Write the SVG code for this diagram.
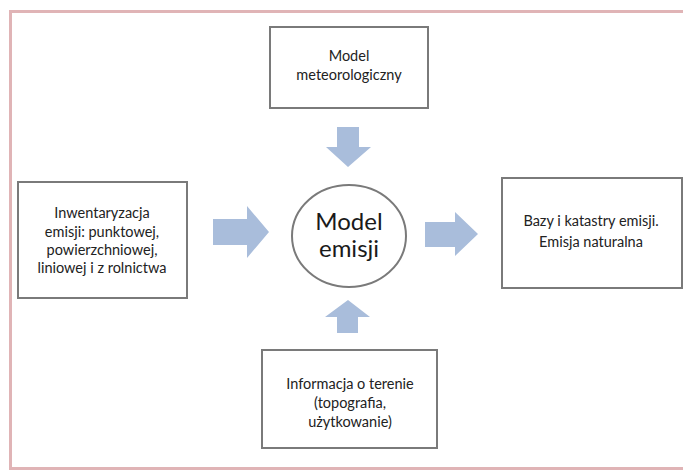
<svg xmlns="http://www.w3.org/2000/svg" width="683" height="471" viewBox="0 0 683 471">
<style>
.box{fill:#fff;stroke:#7a7a7a;stroke-width:2}
.t{font-family:Lato,"Liberation Sans",sans-serif;font-size:14.5px;fill:#222;text-anchor:middle}
.big{font-family:Lato,"Liberation Sans",sans-serif;font-size:24px;fill:#1a1a1a;text-anchor:middle}
.arr{fill:#a9bddb}
</style>
<rect x="0" y="0" width="683" height="471" fill="#fff"/>
<rect x="10.5" y="11.5" width="700" height="457" fill="none" stroke="#e0b4b6" stroke-width="3"/>
<g id="connectors">
<polygon class="arr" points="337,127 359,127 359,147 371,147 348,167 326,147 337,147"/>
<polygon class="arr" points="213,219 247,219 247,206 269,232 247,258 247,245 213,245"/>
<polygon class="arr" points="425,222 455,222 455,212 478,234 455,256 455,247 425,247"/>
<polygon class="arr" points="337,333 358,333 358,317 370,317 348,300 325,317 337,317"/>
</g>
<g id="meteo">
<rect class="box" x="270" y="27" width="158" height="81"/>
<text class="t" x="349" y="61">Model</text>
<text class="t" x="349" y="80">meteorologiczny</text>
</g>
<g id="inwent">
<rect class="box" x="18" y="182" width="169" height="116"/>
<text class="t" x="102" y="218">Inwentaryzacja</text>
<text class="t" x="102" y="237">emisji: punktowej,</text>
<text class="t" x="102" y="255">powierzchniowej,</text>
<text class="t" x="102" y="273">liniowej i z rolnictwa</text>
</g>
<g id="model">
<ellipse cx="349" cy="236" rx="57" ry="51" fill="#fff" stroke="#7a7a7a" stroke-width="2"/>
<text class="big" x="349" y="230">Model</text>
<text class="big" x="349" y="257">emisji</text>
</g>
<g id="bazy">
<rect class="box" x="502" y="178" width="180" height="110"/>
<text class="t" x="591" y="226">Bazy i katastry emisji.</text>
<text class="t" x="591" y="247">Emisja naturalna</text>
</g>
<g id="teren">
<rect class="box" x="262" y="350" width="175" height="98"/>
<text class="t" x="350" y="389">Informacja o terenie</text>
<text class="t" x="350" y="408">(topografia,</text>
<text class="t" x="350" y="427">użytkowanie)</text>
</g>
</svg>
